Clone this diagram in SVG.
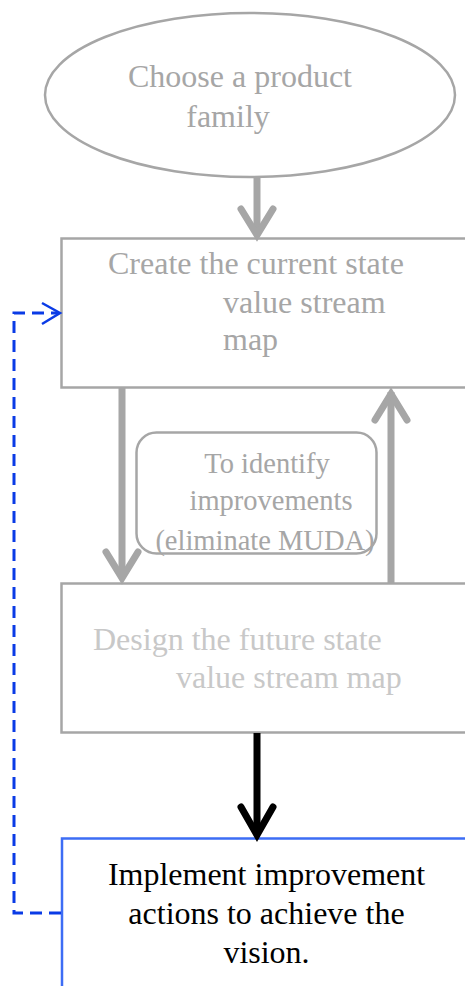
<svg xmlns="http://www.w3.org/2000/svg" width="465" height="986" viewBox="0 0 465 986">
<style>
.box{fill:#fff;stroke:#a6a6a6;stroke-width:2.5}
.t{font-family:"Liberation Serif","Times New Roman",serif;font-size:32px}
.g{fill:#a6a6a6}
.lg{fill:#c8c8c8}
.gl{fill:none;stroke:#a6a6a6;stroke-width:7}
.gh{fill:none;stroke:#a6a6a6;stroke-width:7;stroke-linecap:round;stroke-linejoin:miter}
.bl{fill:none;stroke:#000;stroke-width:7}
.bh{fill:none;stroke:#000;stroke-width:7;stroke-linecap:round}
.dash{fill:none;stroke:#0a3be6;stroke-width:3;stroke-dasharray:12 7}
</style>
<rect width="465" height="986" fill="#fff"/>
<g id="choose">
<ellipse cx="250" cy="95" rx="205" ry="82" fill="#fff" stroke="#a6a6a6" stroke-width="2.5"/>
<text class="t g" x="240" y="87" text-anchor="middle">Choose a product</text>
<text class="t g" x="228" y="127" text-anchor="middle">family</text>
</g>
<g id="current">
<rect class="box" x="61.5" y="238.5" width="420" height="149"/>
<text class="t g" x="108" y="274">Create the current state</text>
<text class="t g" x="223" y="313">value stream</text>
<text class="t g" x="223" y="350">map</text>
</g>
<g id="identify">
<rect x="136.5" y="432.5" width="240" height="121" rx="20" fill="#fff" stroke="#a6a6a6" stroke-width="2.5"/>
<text class="g" font-family="Liberation Serif, Times New Roman, serif" font-size="28.5" x="267" y="473" text-anchor="middle">To identify</text>
<text class="g" font-family="Liberation Serif, Times New Roman, serif" font-size="28.5" x="271" y="510" text-anchor="middle">improvements</text>
<text class="g" font-family="Liberation Serif, Times New Roman, serif" font-size="28.5" x="265" y="550" text-anchor="middle">(eliminate MUDA)</text>
</g>
<g id="future">
<rect class="box" x="61.5" y="583.5" width="420" height="149"/>
<text class="t lg" x="93" y="650">Design the future state</text>
<text class="t lg" x="176" y="688">value stream map</text>
</g>
<g id="implement">
<rect x="62" y="838.5" width="420" height="160" fill="#fff" stroke="#3d6df5" stroke-width="2.5"/>
<text class="t" fill="#000" x="266.5" y="885" text-anchor="middle">Implement improvement</text>
<text class="t" fill="#000" x="266.5" y="924" text-anchor="middle">actions to achieve the</text>
<text class="t" fill="#000" x="266.5" y="963" text-anchor="middle">vision.</text>
</g>
<g id="connectors">
<line class="gl" x1="257" y1="178" x2="257" y2="234"/>
<path class="gh" d="M241 209 L257 235 L273 209"/>
<line class="gl" x1="122" y1="388" x2="122" y2="576"/>
<path class="gh" d="M106 552 L122 578 L138 552"/>
<line class="gl" x1="391" y1="583" x2="391" y2="392"/>
<path class="gh" d="M375 420 L391 394 L407 420"/>
<line class="bl" x1="257" y1="733" x2="257" y2="834"/>
<path class="bh" d="M241 807 L257 835 L273 807"/>
<path class="dash" d="M61 913 H14 V313 H58"/>
<path d="M42 303 L60 313 L42 324" fill="none" stroke="#0a3be6" stroke-width="2.5"/>
</g>
</svg>
